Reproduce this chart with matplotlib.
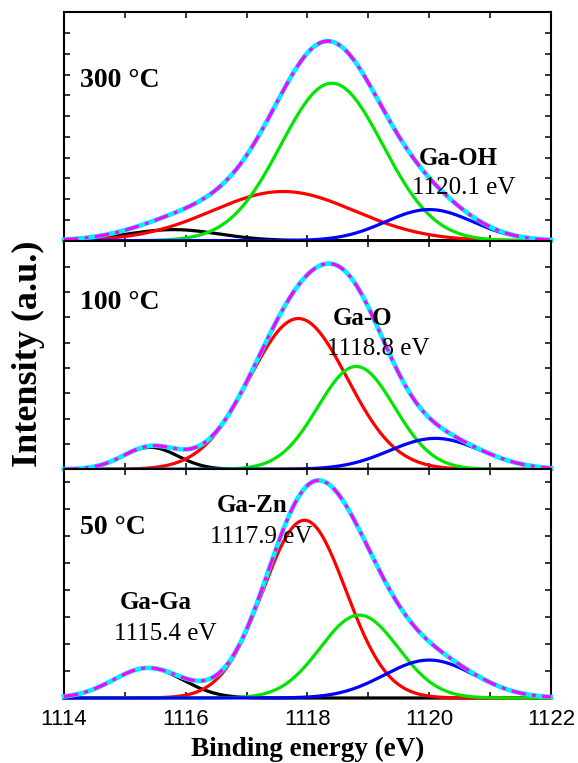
import numpy as np
import matplotlib.pyplot as plt
from matplotlib.ticker import MultipleLocator, NullFormatter

# Ga 2p3/2 peak fits at three anneal temperatures (top to bottom)
temps = ['300 °C', '100 °C', '50 °C']

# components in order: Ga-Ga, Ga-Zn, Ga-O, Ga-OH
comp_colors = ['black', '#ff0000', '#00e600', '#0000ff']

# peak centres (eV), heights (a.u.) and gaussian widths (eV)
centers_300 = [1115.8, 1117.6, 1118.4, 1120.0]
heights_300 = [11, 49, 157, 31]
sigmas_300 = [0.75, 1.17, 0.84, 0.72]

centers_100 = [1115.42, 1117.85, 1118.8, 1120.1]
heights_100 = [22, 151, 103, 31]
sigmas_100 = [0.45, 0.8, 0.63, 0.75]

centers_50 = [1115.38, 1117.95, 1118.85, 1120.0]
heights_50 = [30, 178, 83, 38]
sigmas_50 = [0.57, 0.68, 0.64, 0.74]

# axis heights and tick spacing of each panel (a.u.)
panel_top = [228, 229, 229]
tick_step = [20.7, 25.35, 27.1]

# peak labels: (panel, name, energy text, x of name, x of energy, y of name, y of energy)
labels = [
    (0, 'Ga-OH', '1120.1 eV', 1120.47, 1120.57, 82, 52),
    (1, 'Ga-O', '1118.8 eV', 1118.91, 1119.17, 151, 120),
    (2, 'Ga-Zn', '1117.9 eV', 1117.09, 1117.24, 193, 161),
    (2, 'Ga-Ga', '1115.4 eV', 1115.51, 1115.67, 96, 64),
]
temp_y = [160, 167, 171]

energy = np.linspace(1114, 1122, 801)


def gauss(x, c, h, s):
    return h * np.exp(-(x - c) ** 2 / (2 * s ** 2))


serif = 'Liberation Serif'
plt.rcParams['font.family'] = 'Liberation Sans'

fig, axes = plt.subplots(3, 1, figsize=(5.78, 7.63), dpi=100, sharex=True)
fig.subplots_adjust(left=0.1107, right=0.9533, top=0.9843, bottom=0.0852, hspace=0)

fits = [(centers_300, heights_300, sigmas_300),
        (centers_100, heights_100, sigmas_100),
        (centers_50, heights_50, sigmas_50)]

for i, ax in enumerate(axes):
    cs, hs, ss = fits[i]
    total = np.zeros_like(energy)
    for c, h, s, col in zip(cs, hs, ss, comp_colors):
        y = gauss(energy, c, h, s)
        total += y
        ax.plot(energy, y, color=col, lw=2.3, clip_on=False, zorder=3)
    # envelope (cyan) with the measured trace dash-dotted on top
    ax.plot(energy, total, color='#00f0ff', lw=3.4, clip_on=False, zorder=4)
    ax.plot(energy, total, color='#ff00ff', lw=2.3, clip_on=False, zorder=5,
            dashes=(4.5, 2, 1.2, 2))

    ax.set_xlim(1114, 1122)
    ax.set_ylim(0, panel_top[i])
    ax.xaxis.set_major_locator(MultipleLocator(2))
    ax.xaxis.set_minor_locator(MultipleLocator(1))
    ax.yaxis.set_major_locator(MultipleLocator(tick_step[i]))
    ax.yaxis.set_major_formatter(NullFormatter())
    ax.tick_params(which='both', direction='in', top=True, right=True,
                   length=4, width=1.1, labelsize=16, pad=8)
    for sp in ax.spines.values():
        sp.set_linewidth(1.5)

    ax.text(1114.26, temp_y[i], temps[i], family=serif, fontweight='bold',
            fontsize=20, ha='left', va='center')

for p, name, ev, xn, xe, yn, ye in labels:
    axes[p].text(xn, yn, name, family=serif, fontweight='bold', fontsize=18,
                 ha='center', va='center', zorder=6)
    axes[p].text(xe, ye, ev, family=serif, fontsize=18,
                 ha='center', va='center', zorder=6)

axes[2].set_xlabel('Binding energy (eV)', family=serif, fontweight='bold',
                   fontsize=19.5, labelpad=5)
fig.text(0.05, 0.536, 'Intensity (a.u.)', family=serif, fontweight='bold',
         fontsize=26, rotation=90, ha='center', va='center')

fig.savefig('out.png', dpi=100)
